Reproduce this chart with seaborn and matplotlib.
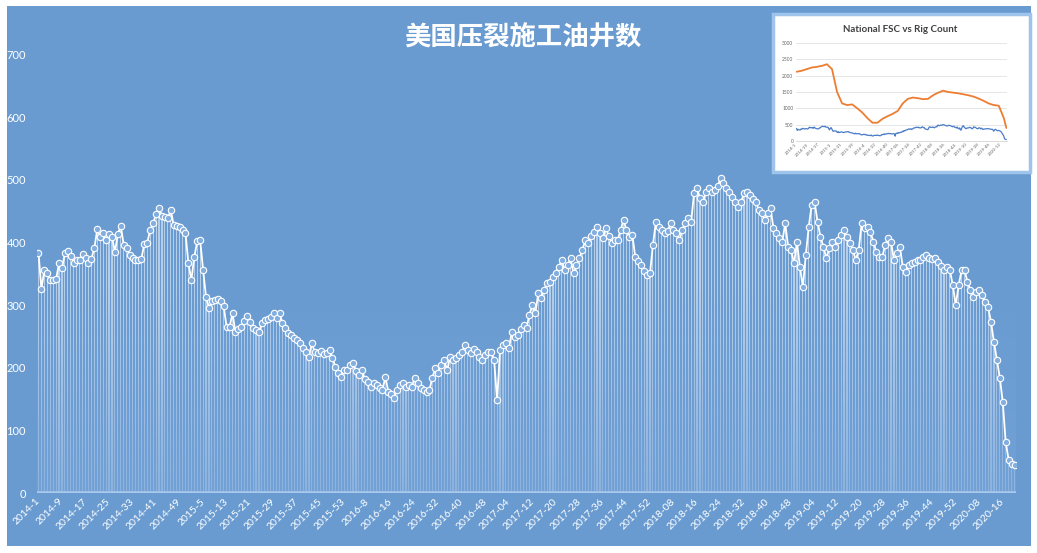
import numpy as np
import matplotlib
matplotlib.use("Agg")
import matplotlib.pyplot as plt
import seaborn as sns
import pandas as pd
from matplotlib.patches import Rectangle
from matplotlib.colors import to_rgb

# ---------------- data ----------------
FRAC_COUNT = [
    384, 326, 356, 351, 340, 341, 342, 367, 359, 383,
    387, 379, 368, 372, 372, 382, 375, 367, 374, 391,
    421, 409, 415, 404, 414, 409, 385, 414, 427, 396,
    391, 380, 375, 372, 373, 374, 398, 400, 420, 431,
    445, 455, 443, 441, 439, 452, 428, 426, 425, 420,
    415, 367, 340, 377, 402, 404, 356, 313, 296, 306,
    308, 310, 306, 298, 265, 265, 287, 257, 262, 265,
    275, 283, 273, 263, 260, 257, 271, 276, 278, 281,
    288, 280, 287, 271, 264, 255, 252, 248, 244, 240,
    232, 225, 218, 239, 225, 223, 227, 222, 223, 228,
    216, 201, 192, 185, 196,
    196, 205, 208, 195, 188, 197, 182, 178, 170, 176,
    173, 168, 165, 185, 162, 158, 152, 165, 173, 176,
    170, 172, 170, 184, 175, 168, 165, 162, 165, 184,
    200, 192, 205, 212, 196, 217, 213, 216, 220, 225,
    236, 228, 224, 230, 225, 218, 212, 220, 225, 225,
    212, 148, 228, 236, 240, 231, 257, 250, 252, 262,
    268, 263, 285, 300, 287, 319, 311, 324, 335, 337,
    345, 352, 361, 372, 356, 364, 375, 351, 364, 375,
    388, 404, 399, 410, 417, 425, 415, 407, 423, 410,
    399, 404, 404, 420, 436, 420, 409, 412, 377, 370,
    364, 355, 348, 351, 396, 433, 425, 420, 415, 418,
    431, 420, 415, 404, 420, 431, 439, 433, 479, 487,
    471, 465, 481, 487, 481, 484, 490, 503, 495, 487,
    481, 473, 465, 457, 465, 479, 481, 476, 470, 465,
    452, 447, 436, 447, 455, 423, 415, 407, 401, 431,
    393, 388, 367, 401, 361, 329, 380, 425, 460, 465,
    433, 409, 393, 375, 391, 401, 393, 404, 412, 420,
    409, 400, 388, 372, 388, 431, 423, 425, 417, 401,
    385, 377, 377, 396, 407, 401, 372, 383, 393, 361,
    353, 364, 367, 369, 372, 372, 377, 380, 375, 374,
    375, 369, 362, 356, 361, 356, 332, 300, 332, 356,
    356, 337, 324, 313, 321, 324, 316, 305, 297, 273,
    241, 212, 184, 145, 81, 53, 47, 44,
]

XTICK_LABELS = [
    '2014-1', '2014-9', '2014-17', '2014-25', '2014-33', '2014-41', '2014-49',
    '2015-5', '2015-13', '2015-21', '2015-29', '2015-37', '2015-45', '2015-53',
    '2016-8', '2016-16', '2016-24', '2016-32', '2016-40', '2016-48',
    '2017-04', '2017-12', '2017-20', '2017-28', '2017-36', '2017-44', '2017-52',
    '2018-08', '2018-16', '2018-24', '2018-32', '2018-40', '2018-48',
    '2019-04', '2019-12', '2019-20', '2019-28', '2019-36', '2019-44', '2019-52',
    '2020-08', '2020-16',
]
YTICKS = [0, 100, 200, 300, 400, 500, 600, 700]

TITLE = '美国压裂施工油井数'

# inset chart: National FSC vs Rig Count
INSET_TITLE = 'National FSC vs Rig Count'
RIG_WEEK = list(range(0, 329, 8)) + [332]
RIG_COUNT = [2120, 2150, 2200, 2250, 2270, 2300, 2350, 2200, 1500, 1150,
             1100, 1120, 1000, 870, 700, 560, 560, 680, 760, 830,
             920, 1150, 1290, 1330, 1310, 1280, 1290, 1400, 1480, 1540,
             1500, 1480, 1460, 1430, 1400, 1360, 1300, 1230, 1150, 1100,
             1080, 700, 400]
INSET_XTICK_LABELS = ['2014-1', '2014-19', '2014-37', '2015-3', '2015-21', '2015-39',
                      '2016-4', '2016-22', '2016-40', '2017-06', '2017-24', '2017-42',
                      '2018-08', '2018-26', '2018-44', '2019-10', '2019-28', '2019-46',
                      '2020-12']
INSET_YTICKS = [0, 500, 1000, 1500, 2000, 2500, 3000]

# ---------------- style ----------------
BG = '#699bd1'
W, H = 1037, 553

sns.set_theme(style='white')
plt.rcParams['font.family'] = ['Lato', 'DejaVu Sans']

fig = plt.figure(figsize=(W / 100, H / 100), dpi=100, facecolor='white')
fig.patches.append(Rectangle((7 / W, 7 / H), (1031 - 7) / W, (547 - 7) / H,
                             transform=fig.transFigure, facecolor=BG,
                             edgecolor='none', zorder=-5))

ax = fig.add_axes([37 / W, 60 / H, 979 / W, 469.5 / H])
ax.set_facecolor('none')

n = len(FRAC_COUNT)
df = pd.DataFrame({'week': np.arange(n), 'count': FRAC_COUNT})

sns.barplot(data=df, x='week', y='count', color='white', alpha=0.5,
            width=0.38, native_scale=True, errorbar=None, saturation=1,
            edgecolor='none', ax=ax, zorder=2)

# fade toward the bottom
fade = np.zeros((200, 1, 4))
fade[..., :3] = to_rgb('#76a4d8')
fade[:, 0, 3] = np.linspace(0.65, 0.0, 200)
ax.imshow(fade, extent=[-0.5, n - 0.5, 0, 330], origin='lower',
          aspect='auto', zorder=3, interpolation='bilinear')

sns.lineplot(data=df, x='week', y='count', color='white', lw=1.3,
             marker='o', markersize=4.6, markerfacecolor='#82aee0',
             markeredgecolor='white', markeredgewidth=0.8, ax=ax, zorder=5)

ax.axhline(0, color='#a8c8ec', lw=2.6, zorder=6)

ax.set_xlim(-0.5, n - 0.5)
ax.set_ylim(0, 750)
for s in ax.spines.values():
    s.set_visible(False)
ax.grid(False)
ax.set_xlabel('')
ax.set_ylabel('')

ax.set_yticks(YTICKS)
ax.set_yticklabels([str(v) for v in YTICKS], color='white', fontsize=8)
ax.tick_params(axis='y', length=0, pad=8)

ax.set_xticks(list(range(0, 8 * len(XTICK_LABELS), 8)))
ax.set_xticklabels(XTICK_LABELS, rotation=45, ha='right', va='center',
                   rotation_mode='anchor', color='white', fontsize=7.5)
ax.tick_params(axis='x', length=0, pad=5)

fig.text(523 / W, 1 - 38 / H, TITLE, ha='center', va='center', fontsize=19,
         color='white', fontweight='bold', family=['Noto Sans CJK SC', 'DejaVu Sans'])

# ---------------- inset ----------------
fig.patches.append(Rectangle((773 / W, 1 - 172 / H), 257 / W, 158 / H,
                             transform=fig.transFigure, facecolor='white',
                             edgecolor='#9ec4ec', lw=2.5, zorder=8))
iax = fig.add_axes([796 / W, 1 - 141 / H, 211 / W, 98 / H], zorder=9)
iax.set_facecolor('white')
sns.lineplot(x=df['week'], y=df['count'], color='#4a7cc8', lw=0.9, ax=iax)
sns.lineplot(x=RIG_WEEK, y=RIG_COUNT, color='#ed7d31', lw=1.3, ax=iax)
iax.set_xlim(-1, n)
iax.set_ylim(0, 3000)
iax.set_yticks(INSET_YTICKS)
iax.set_yticklabels([str(v) for v in INSET_YTICKS], fontsize=3.5, color='#666666')
iax.set_xticks(list(range(0, 18 * len(INSET_XTICK_LABELS), 18)))
iax.set_xticklabels(INSET_XTICK_LABELS, rotation=45, ha='right', va='center',
                    rotation_mode='anchor', fontsize=3.2, color='#666666')
iax.tick_params(length=0, pad=2)
iax.grid(axis='y', color='#dcdcdc', lw=0.5)
iax.grid(axis='x', visible=False)
for s in iax.spines.values():
    s.set_visible(False)
iax.spines['bottom'].set_visible(True)
iax.spines['bottom'].set_color('#cccccc')
iax.spines['bottom'].set_linewidth(0.5)
iax.set_xlabel('')
iax.set_ylabel('')
fig.text(900 / W, 1 - 29 / H, INSET_TITLE, ha='center', va='center', fontsize=7,
         color='#404040', fontweight='bold', zorder=10)

fig.savefig('out.png', dpi=100, facecolor='white')
